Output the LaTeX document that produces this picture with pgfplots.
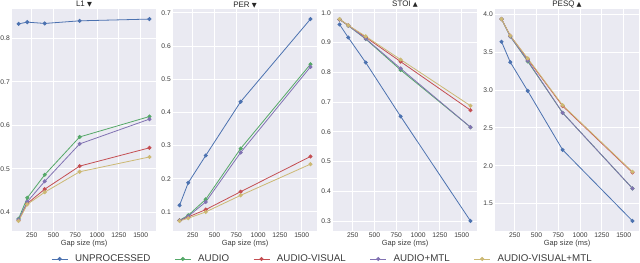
\documentclass[border=0pt]{standalone}
\usepackage{pgfplots}
\pgfplotsset{compat=1.18}
\usepackage{fontspec}
\setmainfont{Liberation Sans}
\newfontfamily\sym{DejaVu Sans}
\definecolor{sbblue}{HTML}{4C72B0}
\definecolor{sbgreen}{HTML}{55A868}
\definecolor{sbred}{HTML}{C44E52}
\definecolor{sbpurple}{HTML}{8172B2}
\definecolor{sbyellow}{HTML}{CCB974}
\definecolor{sbbg}{HTML}{EAEAF2}
\definecolor{sbtext}{HTML}{3A3A3A}
\pgfplotsset{
  panel/.style={
    scale only axis, width=144bp, height=222bp,
    xmin=25, xmax=1675,
    enlarge y limits=0.05,
    xtick={250,500,750,1000,1250,1500},
    axis background/.style={fill=sbbg},
    grid=major, major grid style={white, line width=0.9bp},
    axis line style={draw=none},
    major tick length=0pt,
    tick style={draw=none},
    /pgf/number format/assume math mode=true,
    ticklabel style={font=\fontsize{6.75}{7}\selectfont, text=sbtext},
    xticklabel style={/pgf/number format/1000 sep={}, inner sep=1.5bp},
    yticklabel style={/pgf/number format/.cd, fixed, fixed zerofill, precision=1, /tikz/.cd, inner sep=2bp},
    xlabel={Gap size (ms)},
    xlabel style={font=\fontsize{7.5}{8}\selectfont, text=sbtext, at={(axis description cs:0.5,0)}, anchor=center, yshift=-13bp},
    every axis title shift=0pt,
    title style={font=\fontsize{8}{9}\selectfont, text=black!85, at={(axis description cs:0.5,1)}, anchor=base, yshift=2bp, inner sep=0pt},
    every axis plot/.append style={line width=0.8bp, mark=*, mark size=1.6bp, mark options={solid}},
  },
}
\begin{document}
\begin{tikzpicture}
% L1
\begin{axis}[panel, at={(12bp,32bp)}, anchor=south west,
  title={L1 {\sym\scalebox{0.8}{▼}}},
  ytick={0.4,0.5,0.6,0.7,0.8},
  legend style={at={(axis description cs:2.156,-0.126)}, anchor=center, draw=none, fill=none,
    legend columns=5, font=\fontsize{9.8}{10}\selectfont, text=sbtext,
    /tikz/every odd column/.append style={column sep=5bp},
    /tikz/every even column/.append style={column sep=22bp}},
  legend image code/.code={\draw[mark repeat=2,mark phase=2] plot coordinates {(0bp,0bp) (8bp,0bp) (16bp,0bp)};},
]
\addplot[sbblue, mark options={fill=sbblue}] coordinates {(100,0.833) (200,0.837) (400,0.834) (800,0.840) (1600,0.844)};
\addlegendentry{UNPROCESSED}
\addplot[sbgreen, mark options={fill=sbgreen}] coordinates {(100,0.385) (200,0.433) (400,0.486) (800,0.573) (1600,0.620)};
\addlegendentry{AUDIO}
\addplot[sbred, mark options={fill=sbred}] coordinates {(100,0.381) (200,0.420) (400,0.453) (800,0.506) (1600,0.548)};
\addlegendentry{AUDIO-VISUAL}
\addplot[sbpurple, mark options={fill=sbpurple}] coordinates {(100,0.383) (200,0.424) (400,0.471) (800,0.557) (1600,0.614)};
\addlegendentry{AUDIO+MTL}
\addplot[sbyellow, mark options={fill=sbyellow}] coordinates {(100,0.380) (200,0.418) (400,0.446) (800,0.493) (1600,0.527)};
\addlegendentry{AUDIO-VISUAL+MTL}
\end{axis}
% PER
\begin{axis}[panel, at={(173bp,32bp)}, anchor=south west,
  title={PER {\sym\scalebox{0.8}{▼}}},
  ytick={0.1,0.2,0.3,0.4,0.5,0.6,0.7},
]
\addplot[sbblue, mark options={fill=sbblue}] coordinates {(100,0.120) (200,0.188) (400,0.270) (800,0.432) (1600,0.681)};
\addplot[sbgreen, mark options={fill=sbgreen}] coordinates {(100,0.075) (200,0.090) (400,0.138) (800,0.291) (1600,0.545)};
\addplot[sbred, mark options={fill=sbred}] coordinates {(100,0.074) (200,0.085) (400,0.107) (800,0.161) (1600,0.267)};
\addplot[sbpurple, mark options={fill=sbpurple}] coordinates {(100,0.074) (200,0.087) (400,0.130) (800,0.279) (1600,0.537)};
\addplot[sbyellow, mark options={fill=sbyellow}] coordinates {(100,0.073) (200,0.081) (400,0.100) (800,0.150) (1600,0.244)};
\end{axis}
% STOI
\begin{axis}[panel, at={(333bp,32bp)}, anchor=south west,
  title={STOI {\sym\scalebox{0.8}{▲}}},
  ytick={0.3,0.4,0.5,0.6,0.7,0.8,0.9,1.0},
]
\addplot[sbblue, mark options={fill=sbblue}] coordinates {(100,0.961) (200,0.917) (400,0.833) (800,0.652) (1600,0.301)};
\addplot[sbgreen, mark options={fill=sbgreen}] coordinates {(100,0.978) (200,0.957) (400,0.912) (800,0.808) (1600,0.616)};
\addplot[sbred, mark options={fill=sbred}] coordinates {(100,0.978) (200,0.958) (400,0.918) (800,0.836) (1600,0.673)};
\addplot[sbpurple, mark options={fill=sbpurple}] coordinates {(100,0.978) (200,0.957) (400,0.913) (800,0.813) (1600,0.616)};
\addplot[sbyellow, mark options={fill=sbyellow}] coordinates {(100,0.979) (200,0.958) (400,0.921) (800,0.843) (1600,0.688)};
\end{axis}
% PESQ
\begin{axis}[panel, at={(495bp,32bp)}, anchor=south west,
  title={PESQ {\sym\scalebox{0.8}{▲}}},
  ytick={1.5,2.0,2.5,3.0,3.5,4.0},
]
\addplot[sbblue, mark options={fill=sbblue}] coordinates {(100,3.64) (200,3.37) (400,2.99) (800,2.21) (1600,1.27)};
\addplot[sbgreen, mark options={fill=sbgreen}] coordinates {(100,3.94) (200,3.71) (400,3.38) (800,2.70) (1600,1.70)};
\addplot[sbred, mark options={fill=sbred}] coordinates {(100,3.94) (200,3.72) (400,3.41) (800,2.79) (1600,1.91)};
\addplot[sbpurple, mark options={fill=sbpurple}] coordinates {(100,3.94) (200,3.71) (400,3.39) (800,2.70) (1600,1.70)};
\addplot[sbyellow, mark options={fill=sbyellow}] coordinates {(100,3.94) (200,3.72) (400,3.42) (800,2.80) (1600,1.92)};
\end{axis}
\pgfresetboundingbox
\useasboundingbox (0,0) rectangle (640bp,263bp);
\end{tikzpicture}
\end{document}
